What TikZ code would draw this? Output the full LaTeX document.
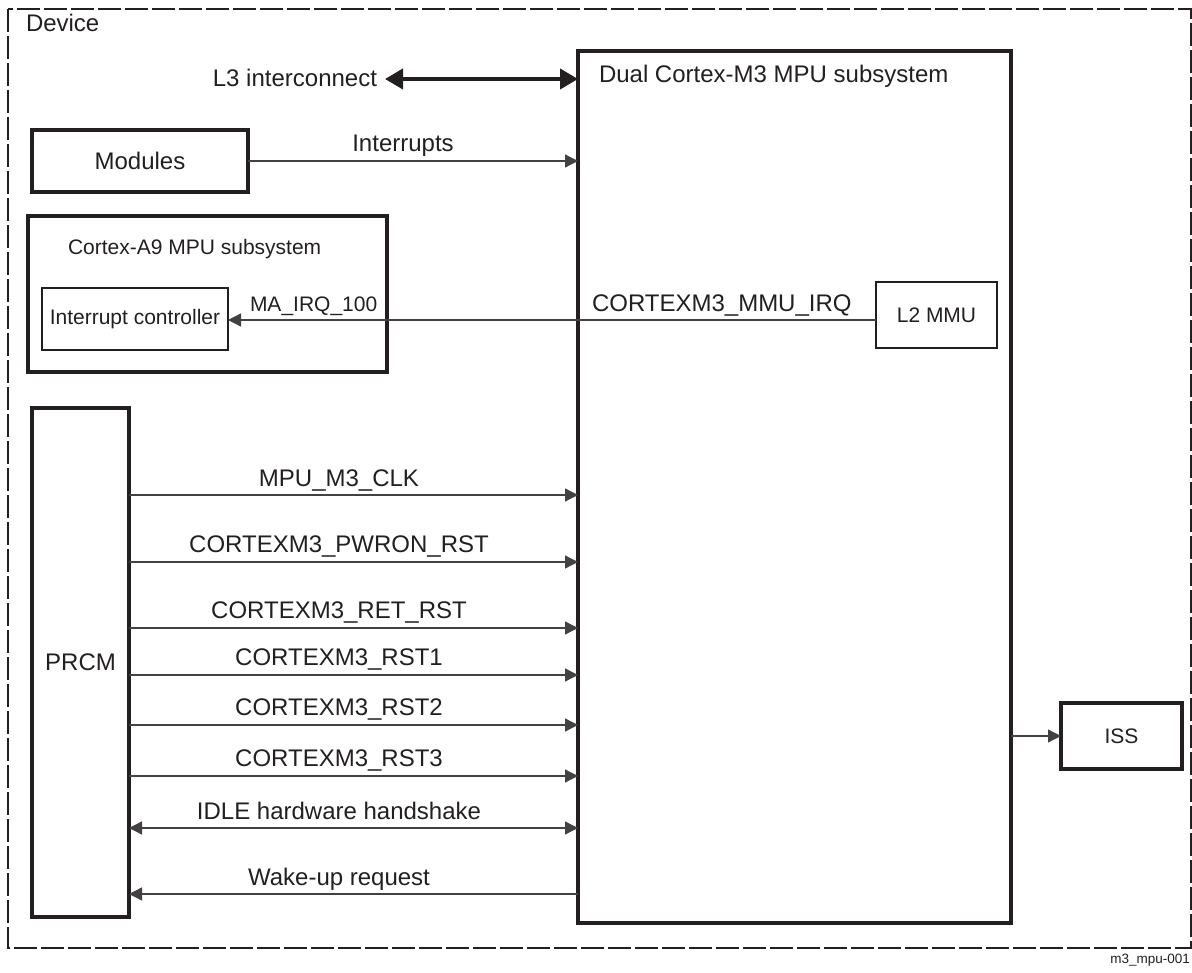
\documentclass[tikz,border=0pt]{standalone}
\usepackage{fontspec}
\setmainfont{Liberation Sans}
\usetikzlibrary{arrows.meta}
\definecolor{ink}{HTML}{231F20}
\begin{document}
\begin{tikzpicture}[x=1pt,y=-1pt,
  every node/.style={font=\fontsize{24}{28}\selectfont, text=ink, inner sep=0pt, outer sep=0pt},
  small/.style={font=\fontsize{21}{24}\selectfont},
  tiny/.style={font=\fontsize{13.5}{16}\selectfont},
  boxa/.style={draw=ink, line width=4pt},
  boxb/.style={draw=ink, line width=3.5pt},
  boxc/.style={draw=ink, line width=2pt},
  sig/.style={draw=ink!85, line width=1.3pt, -{Triangle[length=13pt,width=13pt]}},
  sigr/.style={draw=ink!85, line width=1.3pt, {Triangle[length=13pt,width=13pt]}-},
  sigb/.style={draw=ink!85, line width=1.3pt, {Triangle[length=13pt,width=13pt]}-{Triangle[length=13pt,width=13pt]}},
  bus/.style={draw=ink, line width=4pt, {Triangle[length=18pt,width=20pt]}-{Triangle[length=18pt,width=20pt]}},
  lbl/.style={anchor=base}
]
\useasboundingbox (0,0) rectangle (1192,973);
% device border
\draw[ink, line width=2pt, dash pattern=on 23pt off 4pt] (8,9) rectangle (1191,948);
\node[anchor=base west] (device) at (26,32) {Device};
\node[tiny, anchor=east] (fig) at (1190,960) {m3\_mpu-001};

% boxes
\node[boxa, minimum width=433pt, minimum height=872pt] (m3) at (794.5,487) {};
\node[anchor=base west] (m3t) at (599,83) {Dual Cortex-M3 MPU subsystem};
\node[boxb, minimum width=216pt, minimum height=62pt] (modules) at (140,161) {Modules};
\node[boxb, minimum width=359pt, minimum height=156pt] (a9) at (207.5,294) {};
\node[small, anchor=base west] (a9t) at (68,255) {Cortex-A9 MPU subsystem};
\node[boxc, small, minimum width=186pt, minimum height=62pt] (ic) at (135,319) {Interrupt controller};
\node[boxc, small, minimum width=121pt, minimum height=66pt] (mmu) at (936.5,315) {L2 MMU};
\node[boxa, minimum width=97pt, minimum height=509pt] (prcm) at (80.5,662.5) {PRCM};
\node[boxb, small, minimum width=121pt, minimum height=66pt] (iss) at (1121.5,736) {ISS};

% L3 interconnect
\node[anchor=base east] (l3) at (377,87) {L3 interconnect};
\coordinate (l3tip) at (385,79);
\draw[bus] (l3tip) -- (m3.west |- l3tip);

% interrupts
\draw[sig] (modules.east) -- (m3.west |- modules.east);
\node[lbl] (intl) at (403,152) {Interrupts};

% MMU irq
\coordinate (yirq) at (0,320);
\draw[sigr] (ic.east |- yirq) -- (mmu.west |- yirq);
\node[small, anchor=base west] (maq) at (250,312) {MA\_IRQ\_100};
\node[anchor=base west] (mmuq) at (592,312) {CORTEXM3\_MMU\_IRQ};

% PRCM signals
\coordinate (y1) at (0,495);
\coordinate (y2) at (0,562);
\coordinate (y3) at (0,628);
\coordinate (y4) at (0,675);
\coordinate (y5) at (0,725);
\coordinate (y6) at (0,776);
\coordinate (y7) at (0,828);
\coordinate (y8) at (0,894);
\draw[sig] (prcm.east |- y1) -- (m3.west |- y1);
\draw[sig] (prcm.east |- y2) -- (m3.west |- y2);
\draw[sig] (prcm.east |- y3) -- (m3.west |- y3);
\draw[sig] (prcm.east |- y4) -- (m3.west |- y4);
\draw[sig] (prcm.east |- y5) -- (m3.west |- y5);
\draw[sig] (prcm.east |- y6) -- (m3.west |- y6);
\draw[sigb] (prcm.east |- y7) -- (m3.west |- y7);
\draw[sigr] (prcm.east |- y8) -- (m3.west |- y8);
\node[lbl] (l1) at (339,486) {MPU\_M3\_CLK};
\node[lbl] (l2) at (339,552) {CORTEXM3\_PWRON\_RST};
\node[lbl] (l3s) at (339,618) {CORTEXM3\_RET\_RST};
\node[lbl] (l4) at (339,665) {CORTEXM3\_RST1};
\node[lbl] (l5) at (339,715) {CORTEXM3\_RST2};
\node[lbl] (l6) at (339,766) {CORTEXM3\_RST3};
\node[lbl] (l7) at (339,819) {IDLE hardware handshake};
\node[lbl] (l8) at (339,885) {Wake-up request};

% ISS
\draw[sig] (m3.east |- iss.west) -- (iss.west);
\end{tikzpicture}
\end{document}
